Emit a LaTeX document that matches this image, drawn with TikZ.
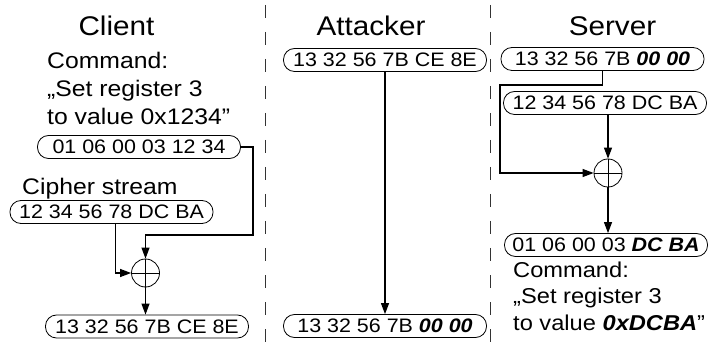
\documentclass[tikz,border=0pt]{standalone}
\usepackage{fontspec}
\setmainfont{Liberation Sans}[FakeStretch=1.1]
\usetikzlibrary{calc}
\usetikzlibrary{arrows.meta}

\tikzset{
  regbox/.style={draw,line width=0.8pt,rounded corners=11pt,minimum width=203pt,
                 minimum height=23pt,inner sep=0pt,font=\fontsize{19.5}{21}\selectfont},
  xorop/.style={draw,circle,line width=0.8pt,minimum size=28pt,inner sep=0pt},
  party/.style={anchor=base,inner sep=0pt,font=\fontsize{27}{30}\selectfont},
  note/.style={anchor=base west,inner sep=0pt,align=left,font=\fontsize{22.5}{28}\selectfont},
  flow/.style={line width=1.1pt,-{Triangle[length=11pt,width=8pt]}},
  sep/.style={line width=1pt,black!80,dash pattern=on 13pt off 14pt}
}

\begin{document}
\begin{tikzpicture}[x=1pt,y=-1pt]
\useasboundingbox (0,0) rectangle (708,344);

% lanes
\draw[sep] (265,5) -- (265,344);
\draw[sep] (490,5) -- (490,344);

\node[party] (client) at (116.5,36) {Client};
\node[party] (attacker) at (371,36) {Attacker};
\node[party] (server) at (612.5,36) {Server};

% client
\node[note] (cmdc) at (47,125) {Command:\\„Set register 3\\to value 0x1234”};
\node[regbox] (plain) at (139,147) {01 06 00 03 12 34};
\node[note] (ksc) at (22,195) {Cipher stream};
\node[regbox] (keyc) at (111.5,212) {12 34 56 78 DC BA};
\node[xorop] (xorc) at (145.5,273) {};
\draw[line width=0.8pt] (xorc.north) -- (xorc.south) (xorc.west) -- (xorc.east);
\node[regbox] (encc) at (147,326.5) {13 32 56 7B CE 8E};

\draw[flow] (plain.east) -- (253,147) -- (253,235) -| (xorc.north);
\draw[flow] ([xshift=4pt]keyc.south) |- (xorc.west);
\draw[flow] (xorc.south) -- (xorc.south |- encc.north);

% attacker
\node[regbox] (sniff) at (385,60) {13 32 56 7B CE 8E};
\node[regbox] (forged) at (385,326) {13 32 56 7B \textbf{\textit{00 00}}};
\draw[flow] (sniff.south) -- (forged.north);

% server
\node[regbox] (recv) at (602.5,59) {13 32 56 7B \textbf{\textit{00 00}}};
\node[regbox] (keys) at (605,103) {12 34 56 78 DC BA};
\node[xorop] (xors) at (608,173) {};
\draw[line width=0.8pt] (xors.north) -- (xors.south) (xors.west) -- (xors.east);
\node[regbox] (decs) at (606,245) {01 06 00 03 \textbf{\textit{DC BA}}};
\node[note,font=\fontsize{21.5}{26.5}\selectfont] (cmds) at (513,330)
  {Command:\\„Set register 3\\to value \textbf{\textit{0xDCBA}}”};

\draw[flow] (recv.south) -- (602.5,85) -- (500,85) |- (xors.west);
\draw[flow] (xors |- keys.south) -- (xors.north);
\draw[flow] (xors.south) -- (xors.south |- decs.north);

\end{tikzpicture}
\end{document}
